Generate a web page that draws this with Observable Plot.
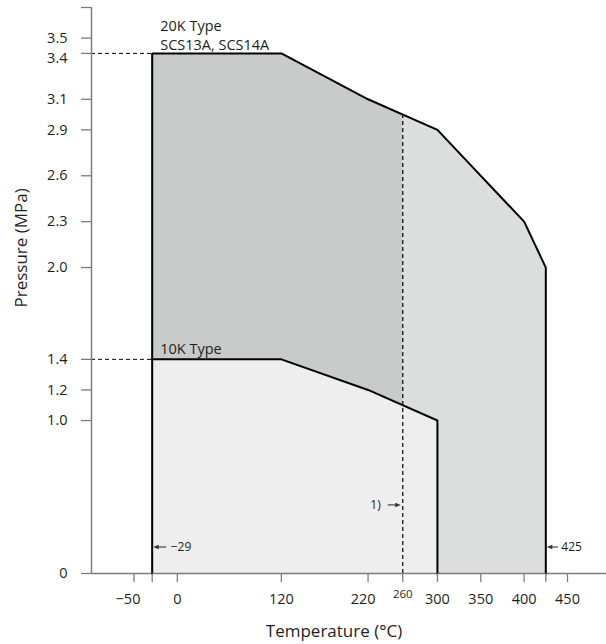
<!DOCTYPE html>
<html>
<head>
<meta charset="utf-8">
<script src="https://cdn.jsdelivr.net/npm/d3@7"></script>
<script src="https://cdn.jsdelivr.net/npm/@observablehq/plot@0.6"></script>
<style>
  html, body { margin: 0; padding: 0; background: #fff; }
</style>
</head>
<body>
<div id="chart"></div>
<script>
// ---- data ----
const temps20K = [-29, 120, 220, 300, 400, 425];
const press20K = [3.4, 3.4, 3.1, 2.9, 2.3, 2.0];
const temps10K = [-29, 120, 220, 300];
const press10K = [1.4, 1.4, 1.2, 1.0];
const limitTemp = 260;       // dashed limit line (note 1)
const limitPress = 3.0;      // where it meets the 20K boundary
const xTickValues = [-50, 0, 120, 220, 300, 350, 400, 450];
const xMarkerTicks = [-29, 260, 425];
const yTickValues = [0, 1.0, 1.2, 1.4, 2.0, 2.3, 2.6, 2.9, 3.1, 3.4, 3.5];
const xDomain = [-99, 495];
const yDomain = [0, 3.7];
const typeLabels20K = ["20K Type", "SCS13A, SCS14A"];
const typeLabel10K = "10K Type";
const noteTemps = [-29, 425, 260];
const notePress = [0.17, 0.17, 0.445];
const noteLabels = ["\u221229", "425", "1)"];
const xTitle = "Temperature (\u00b0C)";
const yTitle = "Pressure (MPa)";

// ---- derived tables ----
const curve20 = temps20K.map((t, i) => ({t, p: press20K[i]}));
const curve10 = temps10K.map((t, i) => ({t, p: press10K[i]}));
const left20 = curve20.filter(d => d.t < limitTemp).concat([{t: limitTemp, p: limitPress}]);
const outline20 = [{t: temps20K[0], p: 0}, ...curve20, {t: temps20K[temps20K.length - 1], p: 0}];
const outline10 = [...curve10, {t: temps10K[temps10K.length - 1], p: 0}];
const notes = noteTemps.map((t, i) => ({t, p: notePress[i], label: noteLabels[i]}));
const anchor20 = {t: temps20K[0], p: press20K[0]};
const anchor10 = {t: temps10K[0], p: press10K[0]};

const axisGray = "#7d7d7d";
const ink = "#231f20";
const fmtX = d => d < 0 ? "\u2212" + Math.abs(d) : String(d);
const fmtY = d => d === 0 ? "0" : d.toFixed(1);

const arrowMark = (index, scales) => {
  const g = d3.create("svg:g");
  const dirs = [1, 1, -1];
  notes.forEach((d, i) => {
    const dir = dirs[i];
    const x0 = scales.x(d.t);
    const y0 = scales.y(d.p);
    const tip = x0 + dir * 1.5;
    const tail = x0 + dir * (i === 1 ? 12.5 : 14.5);
    g.append("line")
      .attr("x1", tip + dir * 4).attr("x2", tail)
      .attr("y1", y0).attr("y2", y0)
      .attr("stroke", "#333").attr("stroke-width", 1.1);
    g.append("path")
      .attr("d", `M${tip},${y0}L${tip + dir * 5.5},${y0 - 2.2}L${tip + dir * 5.5},${y0 + 2.2}Z`)
      .attr("fill", "#333");
  });
  return g.node();
};

const chart = Plot.plot({
  width: 606,
  height: 644,
  marginLeft: 91,
  marginRight: 0,
  marginTop: 7,
  marginBottom: 71,
  style: {fontFamily: '"Open Sans", sans-serif', background: "#fff", overflow: "visible"},
  x: {domain: xDomain, label: null},
  y: {domain: yDomain, label: null},
  marks: [
    Plot.areaY(curve20, {x: "t", y: "p", fill: "#dcdddd"}),
    Plot.areaY(left20, {x: "t", y: "p", fill: "#c9caca"}),
    Plot.areaY(curve10, {x: "t", y: "p", fill: "#eeeeee"}),
    Plot.ruleX([limitTemp], {y1: 0, y2: limitPress, stroke: "#000", strokeWidth: 1.2, strokeDasharray: "4,3"}),
    Plot.ruleY([press20K[0], press10K[0]], {x1: xDomain[0], x2: temps20K[0], stroke: "#000", strokeWidth: 1, strokeDasharray: "4,3"}),
    Plot.ruleX([xDomain[0]], {stroke: axisGray, strokeWidth: 1.5}),
    Plot.ruleY([0], {stroke: axisGray, strokeWidth: 1.5}),
    Plot.line(outline20, {x: "t", y: "p", stroke: "#000", strokeWidth: 2, strokeLinejoin: "miter"}),
    Plot.line(outline10, {x: "t", y: "p", stroke: "#000", strokeWidth: 2, strokeLinejoin: "miter"}),
    // y axis: ticks, labels
    Plot.axisY(yTickValues.concat([yDomain[1]]), {tickSize: 10, stroke: axisGray, strokeWidth: 1.3, tickFormat: () => "", label: null}),
    Plot.axisY(yTickValues.filter(d => d !== 3.4), {tickSize: 0, tickPadding: 24, fontSize: 14.5, fill: ink, tickFormat: fmtY, label: null}),
    Plot.axisY([3.4], {tickSize: 0, tickPadding: 24, dy: 5, fontSize: 14.5, fill: ink, tickFormat: fmtY, label: null}),
    // x axis: ticks, labels
    Plot.axisX(xTickValues.concat(xMarkerTicks), {tickSize: 9, stroke: axisGray, strokeWidth: 1.3, tickFormat: () => "", label: null}),
    Plot.axisX(xTickValues.filter(d => d !== -50 && d !== 220), {tickSize: 0, tickPadding: 20, fontSize: 14.5, fill: ink, tickFormat: fmtX, label: null}),
    Plot.axisX([-50], {tickSize: 0, tickPadding: 20, dx: -6, fontSize: 14.5, fill: ink, tickFormat: fmtX, label: null}),
    Plot.axisX([220], {tickSize: 0, tickPadding: 20, dx: -5, fontSize: 14.5, fill: ink, tickFormat: fmtX, label: null}),
    Plot.axisX([limitTemp], {tickSize: 0, tickPadding: 16, fontSize: 11.5, fill: ink, tickFormat: fmtX, label: null}),
    // titles
    Plot.text([xTitle], {text: d => d, frameAnchor: "bottom", dy: 58, dx: -15, fontSize: 17, fill: ink, lineAnchor: "middle"}),
    Plot.text([yTitle], {text: d => d, frameAnchor: "left", dx: -70, dy: 17, rotate: -90, fontSize: 17, fill: ink, lineAnchor: "middle"}),
    // annotations
    Plot.text([anchor20], {x: "t", y: "p", text: () => typeLabels20K[0], textAnchor: "start", lineAnchor: "bottom", dx: 8, dy: -22.5, fontSize: 14.5, fill: ink}),
    Plot.text([anchor20], {x: "t", y: "p", text: () => typeLabels20K[1], textAnchor: "start", lineAnchor: "bottom", dx: 8, dy: -3.5, fontSize: 14.5, fill: ink}),
    Plot.text([anchor10], {x: "t", y: "p", text: () => typeLabel10K, textAnchor: "start", lineAnchor: "bottom", dx: 8, dy: -5, fontSize: 14.5, fill: ink}),
    Plot.text([notes[0]], {x: "t", y: "p", text: "label", textAnchor: "start", dx: 18.5, fontSize: 12, fill: ink}),
    Plot.text([notes[1]], {x: "t", y: "p", text: "label", textAnchor: "start", dx: 15.5, fontSize: 12, fill: ink}),
    Plot.text([notes[2]], {x: "t", y: "p", text: "label", textAnchor: "end", dx: -22, fontSize: 12, fill: ink}),
    arrowMark
  ]
});
document.getElementById("chart").appendChild(chart);
</script>
</body>
</html>
